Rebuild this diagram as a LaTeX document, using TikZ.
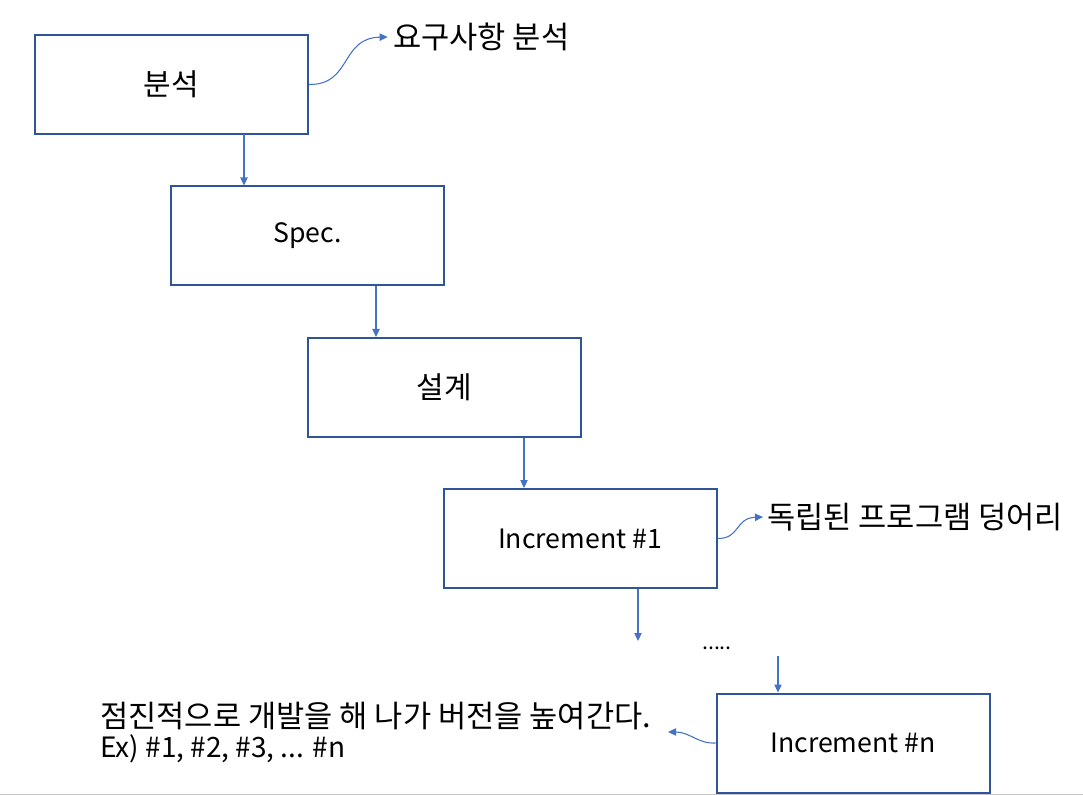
\documentclass[tikz,border=0pt]{standalone}
\usepackage{fontspec}
\setmainfont{Noto Sans CJK KR}
\usetikzlibrary{arrows.meta}
\definecolor{boxblue}{HTML}{2F5597}
\definecolor{arrblue}{HTML}{4472C4}
\tikzset{
  stagebox/.style={draw=boxblue, line width=1.5pt, minimum width=204.75pt, minimum height=74.25pt, inner sep=0pt, font=\fontsize{20pt}{24pt}\selectfont},
  korbox/.style={stagebox, font=\fontsize{22.5pt}{26pt}\selectfont},
  flow/.style={draw=arrblue, line width=0.8pt, -{Triangle[length=6pt,width=5.5pt]}},
  note/.style={anchor=west, inner sep=0pt, font=\fontsize{23pt}{27pt}\selectfont},
}
\begin{document}
\begin{tikzpicture}[x=0.75pt,y=-0.75pt]
\useasboundingbox (0,0) rectangle (1083,795);
\fill[white] (0,0) rectangle (1083,795);
\draw[gray!45, line width=1pt] (0,794.5) -- (1083,794.5);
\node[korbox] (b1) at (171.5,84.5) {분석};
\node[stagebox] (b2) at (307.5,236) {Spec.};
\node[korbox] (b3) at (444,387.5) {설계};
\node[stagebox] (b4) at (580,538.5) {Increment \#1};
\node[stagebox] (b5) at (853,743) {Increment \#n};
\node[note] (t1) at (393,37) {요구사항 분석};
\node[note] (t2) at (767,517) {독립된 프로그램 덩어리};
\node[note] (t3) at (100,716) {점진적으로 개발을 해 나가 버전을 높여간다.};
\node[note, font=\fontsize{21pt}{25pt}\selectfont] (t4) at (100,749) {Ex) \#1, \#2, \#3, ... \#n};
\node[inner sep=0pt, font=\fontsize{16pt}{18pt}\selectfont] (dots) at (717,648) {.....};
\coordinate (c1) at (244,134.5);
\coordinate (c2) at (376,286);
\coordinate (c3) at (524,437.5);
\coordinate (c4) at (638,588.5);
\coordinate (c4e) at (638,641);
\coordinate (c5) at (778,656);
\draw[flow] (c1) -- (c1 |- b2.north);
\draw[flow] (c2) -- (c2 |- b3.north);
\draw[flow] (c3) -- (c3 |- b4.north);
\draw[flow] (c4) -- (c4e);
\draw[flow] (c5) -- (c5 |- b5.north);
\draw[flow] (b1.east) .. controls (352,85) and (340,38) .. ([xshift=-4pt]t1.west);
\draw[flow] (b4.east) .. controls (740,539) and (735,518) .. ([xshift=-3pt]t2.west);
\draw[flow] (b5.west) .. controls (698,744) and (690,732) .. (668,732);
\end{tikzpicture}
\end{document}
